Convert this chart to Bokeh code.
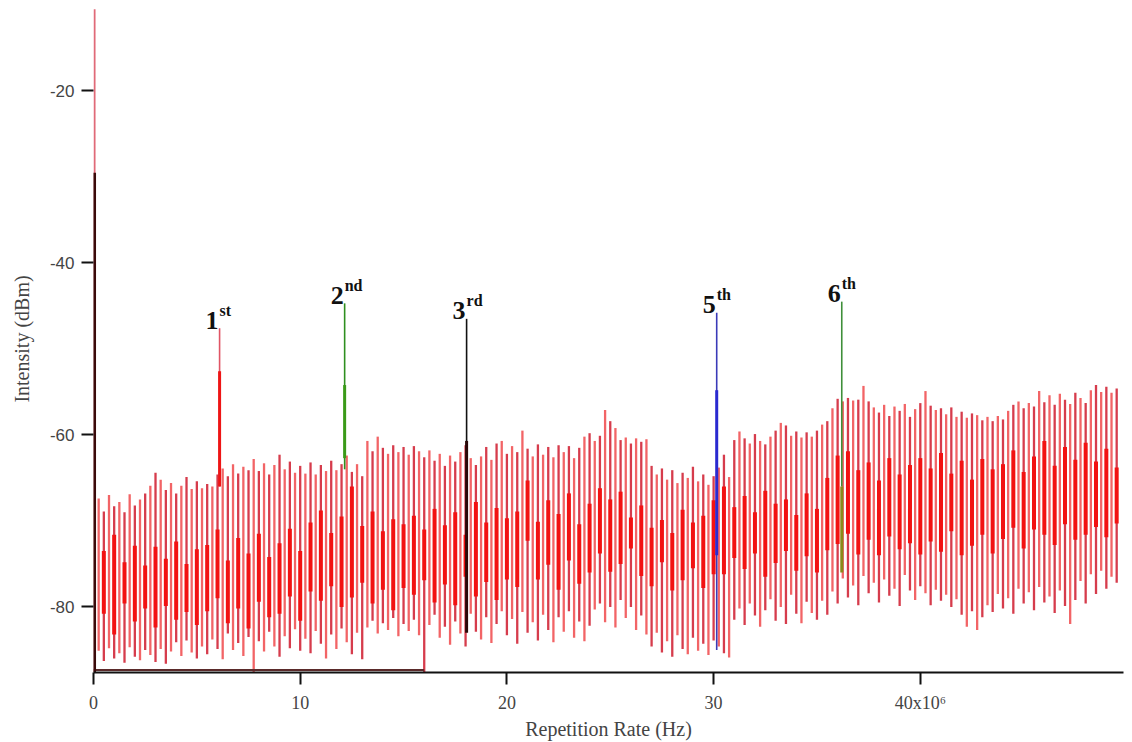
from bokeh.plotting import figure
from bokeh.models import Range1d, FixedTicker, ColumnDataSource
from bokeh.core.properties import value
from bokeh.embed import file_html
from bokeh.resources import INLINE

# ---------------- data ----------------
# comb lines of the spectrum, one every 0.25 MHz from 0.25 to 49.5
spike_step = 0.25
spike_top = [
    -67.4, -68.9, -67.0, -68.3, -67.8, -69.0, -66.9, -68.2, -67.5, -66.8,
    -65.9, -64.4, -65.2, -66.4, -65.6, -66.8, -65.9, -64.9, -66.3, -65.4,
    -66.2, -65.7, -66.0, -64.6, -63.9, -64.8, -63.4, -64.5, -63.7, -64.1,
    -62.8, -64.2, -63.3, -64.6, -63.5, -62.3, -64.0, -63.1, -64.4, -63.6,
    -64.5, -63.2, -64.6, -63.5, -64.2, -63.0, -64.1, -63.4, -62.4, -64.3,
    -63.4, -64.8, -60.7, -61.9, -60.2, -61.5, -62.2, -61.2, -62.0, -61.4,
    -62.3, -61.3, -61.9, -62.6, -61.8, -63.0, -62.2, -63.6, -62.4, -63.1,
    -62.0, -61.2, -62.7, -63.5, -62.5, -61.4, -62.9, -61.0, -60.7, -62.2,
    -61.3, -62.0, -59.5, -61.6, -62.5, -61.1, -62.3, -61.4, -62.6, -61.2,
    -62.0, -61.3, -62.7, -61.5, -60.2, -59.8, -60.7, -60.1, -57.1, -58.4,
    -59.2, -60.6, -60.3, -61.0, -60.4, -60.8, -60.5, -63.6, -64.6, -63.9,
    -65.2, -64.1, -65.6, -64.4, -65.0, -63.7, -65.4, -64.6, -65.8, -64.8,
    -63.8, -62.3, -64.9, -60.6, -59.6, -60.4, -61.0, -59.9, -60.7, -61.1,
    -60.2, -59.5, -58.6, -58.9, -60.1, -59.6, -60.3, -59.7, -60.2, -59.5,
    -58.8, -58.4, -56.9, -55.8, -56.1, -55.7, -56.0, -55.9, -54.3, -56.1,
    -56.8, -57.4, -56.5, -57.8, -56.7, -57.2, -56.4, -57.9, -57.0, -56.3,
    -54.9, -56.6, -57.1, -56.9, -57.6, -56.8, -57.9, -57.3, -58.0, -57.5,
    -57.7, -58.3, -57.9, -58.4, -57.8, -58.2, -57.2, -56.5, -56.1, -56.9,
    -56.3, -56.7, -54.9, -56.2, -55.4, -56.5, -55.2, -55.9, -56.4, -55.1,
    -55.7, -56.3, -54.8, -54.2, -55.0, -54.4, -55.1, -54.6,
]
spike_bottom = [
    -85.1, -86.3, -84.8, -86.0, -85.4, -86.5, -84.7, -85.8, -86.2, -85.0,
    -85.6, -86.4, -84.9, -86.6, -85.2, -84.1, -85.7, -83.9, -85.3, -86.0,
    -84.6, -85.5, -83.8, -84.9, -86.1, -83.1, -85.0, -84.2, -85.7, -83.5,
    -87.6, -84.0, -85.2, -82.9, -84.6, -85.8, -83.4, -84.8, -82.6, -85.1,
    -83.7, -85.4, -82.8, -84.3, -86.0, -83.2, -84.9, -82.5, -84.1, -85.5,
    -83.0, -86.1, -82.4, -81.6, -83.1, -81.9, -82.7, -81.3, -83.4, -82.0,
    -82.8, -81.5, -83.3, -87.6, -82.1, -80.9, -83.6, -82.3, -84.4, -81.7,
    -83.1, -84.6, -80.8, -82.9, -83.8, -81.2, -84.2, -82.0, -80.5, -83.3,
    -81.4, -84.3, -80.6, -83.0, -81.8, -83.9, -80.9, -82.7, -84.1, -81.2,
    -82.9, -80.5, -83.6, -81.7, -84.0, -82.2, -80.3, -79.6, -81.8, -80.0,
    -82.4, -79.2, -81.3, -80.0, -82.7, -81.0, -83.2, -84.6, -83.0, -85.3,
    -84.0, -85.8, -83.3, -84.9, -85.5, -83.6, -85.1, -84.3, -85.6, -83.9,
    -84.6, -85.4, -85.9, -81.5, -80.2, -82.1, -79.6, -81.0, -82.3, -80.4,
    -79.1, -81.6, -80.0, -82.0, -78.6, -80.8, -81.9, -79.4, -80.7, -81.5,
    -79.3, -80.9, -78.2, -79.6, -76.7, -78.9, -77.5, -79.8, -76.4, -78.4,
    -77.2, -79.5, -76.8, -78.7, -77.9, -79.9, -76.3, -78.1, -79.2, -77.6,
    -78.4, -79.8, -78.0, -79.3, -78.6, -80.0, -79.1, -80.9, -82.3, -80.5,
    -82.7, -81.2, -79.8, -80.6, -78.5, -80.2, -79.0, -80.8, -77.9, -79.6,
    -78.3, -80.4, -77.7, -79.5, -78.8, -80.7, -78.1, -79.9, -82.0, -79.2,
    -77.0, -79.6, -76.2, -78.5, -75.8, -77.9, -76.5, -77.2,
]
spike_freq = [round(spike_step * (i + 1), 2) for i in range(len(spike_top))]

# bright central trace, one segment every 0.5 MHz from 0.5 to 49.5
core_step = 0.5
core_top = [
    -73.5, -71.6, -74.8, -72.9, -75.2, -73.0, -74.4, -72.4, -75.0, -73.3,
    -72.8, -71.0, -74.6, -72.0, -73.8, -71.5, -74.2, -72.6, -70.9, -73.5,
    -70.2, -68.8, -71.4, -69.5, -66.0, -70.6, -68.9, -71.2, -69.8, -70.4,
    -69.4, -71.0, -68.6, -70.5, -69.0, -71.6, -67.8, -70.2, -68.5, -69.7,
    -68.9, -65.3, -70.1, -67.6, -69.2, -66.8, -70.4, -68.0, -66.2, -67.5,
    -66.6, -69.6, -68.2, -70.8, -69.9, -71.4, -68.7, -70.2, -69.4, -67.6,
    -66.0, -68.4, -67.1, -69.0, -66.5, -68.0, -67.5, -69.3, -66.8, -68.6,
    -65.0, -62.4, -61.9, -64.1, -63.2, -65.3, -62.7, -64.6, -63.5, -62.7,
    -63.9, -62.1, -64.5, -63.0, -65.2, -62.8, -64.0, -63.4, -61.8, -64.3,
    -62.5, -60.7, -63.6, -61.4, -62.9, -60.9, -63.1, -61.6, -63.8,
]
core_bottom = [
    -80.8, -83.2, -79.6, -81.7, -80.2, -82.4, -79.9, -81.5, -80.6, -82.1,
    -80.5, -79.0, -81.9, -80.2, -82.5, -79.4, -81.2, -80.8, -78.8, -81.6,
    -78.2, -79.3, -77.6, -80.0, -78.9, -77.2, -79.6, -78.0, -80.4, -77.8,
    -78.6, -76.9, -79.5, -77.4, -79.8, -76.5, -78.8, -77.1, -79.2, -76.8,
    -77.7, -72.3, -76.8, -75.1, -78.0, -74.6, -77.3, -76.0, -73.8, -75.9,
    -75.0, -73.2, -76.4, -77.6, -74.8, -78.1, -76.9, -75.5, -77.8, -76.2,
    -76.2, -74.3, -75.6, -73.8, -76.5, -74.9, -73.5, -75.8, -74.1, -76.0,
    -73.4, -72.7, -71.5, -73.9, -72.2, -74.0, -71.8, -73.3, -72.6, -73.9,
    -72.4, -73.6, -71.2, -74.0, -72.9, -71.6, -73.8, -72.1, -70.8, -73.2,
    -71.0, -71.6, -72.8, -70.4, -72.2, -71.6, -70.7, -71.9, -70.3,
]
core_freq = [round(core_step * (i + 1), 2) for i in range(len(core_top))]

# zero-frequency line (drawn just inside the frame) and the flat floor trace
dc_freq = [0.05]
dc_top = [-10.5]
dc_dark_top = [-29.5]
dc_bottom = [-87.6]
floor_freq = [0.0, 16.0]
floor_db = [-87.35, -87.35]

# labelled harmonics
peak_freq = [6.1, 12.15, 18.05, 30.15, 36.2]
peak_top = [-47.6, -44.7, -46.5, -45.8, -44.5]
peak_tail = [-66.0, -64.0, -72.0, -85.0, -66.0]
peak_mid = [-52.6, -54.2, -60.7, -54.8, -66.0]
peak_base = [-66.0, -62.7, -83.0, -74.0, -76.0]
peak_num = ["1", "2", "3", "5", "6"]
peak_sup = ["st", "nd", "rd", "th", "th"]

x_ticks = [0, 10, 20, 30, 40]
x_tick_labels = {40: "40x10\u2076"}
y_ticks = [-80, -60, -40, -20]
y_tick_labels = {-80: "-80", -60: "-60", -40: "-40", -20: "-20"}

# ---------------- figure ----------------
p = figure(width=1132, height=742, output_backend="svg", toolbar_location=None,
           x_range=Range1d(0, 49.83), y_range=Range1d(-87.63, -10.06))
p.min_border_left = 93
p.min_border_right = 9
p.min_border_top = 5
p.min_border_bottom = 66
p.outline_line_color = None
p.xgrid.visible = False
p.ygrid.visible = False
p.background_fill_color = "white"
p.border_fill_color = "white"

thin_colors = ["#f26466" if i % 2 == 0 else "#d63c4c" for i in range(len(spike_top))]
spikes = ColumnDataSource(dict(x=spike_freq, top=spike_top, bot=spike_bottom, c=thin_colors))
p.segment(x0="x", y0="bot", x1="x", y1="top", source=spikes, line_color="c", line_width=2.3)

core = ColumnDataSource(dict(x=core_freq, top=core_top, bot=core_bottom))
p.segment(x0="x", y0="bot", x1="x", y1="top", source=core, line_color="#f21212", line_width=4)

p.line(floor_freq, floor_db, line_color="#5a2a2a", line_width=2)
p.segment(x0=dc_freq, y0=dc_bottom, x1=dc_freq, y1=dc_top, line_color="#e06a78", line_width=2)
p.segment(x0=dc_freq, y0=dc_bottom, x1=dc_freq, y1=dc_dark_top, line_color="#3a0a0a", line_width=3)

thin_pk = ["#e05565", "#2f8f1f", "#111111", "#3a3ab8", "#3f8f3a"]
thick_pk = ["#ee1515", "#3a9a18", "#2a0808", "#2a2ad0", "#8a8a1a"]
pk = ColumnDataSource(dict(x=peak_freq, top=peak_top, tail=peak_tail, mid=peak_mid,
                           base=peak_base, tc=thin_pk, kc=thick_pk,
                           num=peak_num, sup=peak_sup))
p.segment(x0="x", y0="tail", x1="x", y1="top", source=pk, line_color="tc", line_width=1.6)
p.segment(x0="x", y0="base", x1="x", y1="mid", source=pk, line_color="kc", line_width=3)

p.text(x="x", y="top", text="num", source=pk, text_font=value("Liberation Serif"),
       text_font_style="bold", text_font_size="26px", text_align="right",
       text_baseline="alphabetic", x_offset=-1, y_offset=-8, text_color="#111111")
p.text(x="x", y="top", text="sup", source=pk, text_font=value("Liberation Serif"),
       text_font_style="bold", text_font_size="16px", text_align="left",
       text_baseline="alphabetic", x_offset=0, y_offset=-18, text_color="#111111")

# axes
xa = p.xaxis[0]
xa.ticker = FixedTicker(ticks=x_ticks)
xa.major_label_overrides = x_tick_labels
xa.axis_label = "Repetition Rate (Hz)"
xa.axis_label_text_font = "Liberation Serif"
xa.axis_label_text_font_style = "normal"
xa.axis_label_text_font_size = "20px"
xa.axis_label_standoff = 2
xa.major_label_text_font = "Liberation Serif"
xa.major_label_text_font_size = "18px"
xa.major_label_standoff = 8
xa.minor_tick_line_color = None
xa.major_tick_in = 0
xa.major_tick_out = 12
xa.major_tick_line_width = 2
xa.axis_line_width = 2
xa.axis_line_color = "#111111"
xa.major_tick_line_color = "#111111"

ya = p.yaxis[0]
ya.ticker = FixedTicker(ticks=y_ticks)
ya.major_label_overrides = y_tick_labels
ya.axis_label = "Intensity (dBm)"
ya.axis_label_text_font = "Liberation Serif"
ya.axis_label_text_font_style = "normal"
ya.axis_label_text_font_size = "20px"
ya.axis_label_standoff = 14
ya.major_label_text_font = "Liberation Sans"
ya.major_label_text_font_size = "17px"
ya.major_label_standoff = 7
ya.minor_tick_line_color = None
ya.major_tick_in = 0
ya.major_tick_out = 12
ya.major_tick_line_width = 2
ya.axis_line_width = 2
ya.axis_line_color = None
ya.major_tick_line_color = "#111111"

open("out.html", "w").write(file_html(p, INLINE))
